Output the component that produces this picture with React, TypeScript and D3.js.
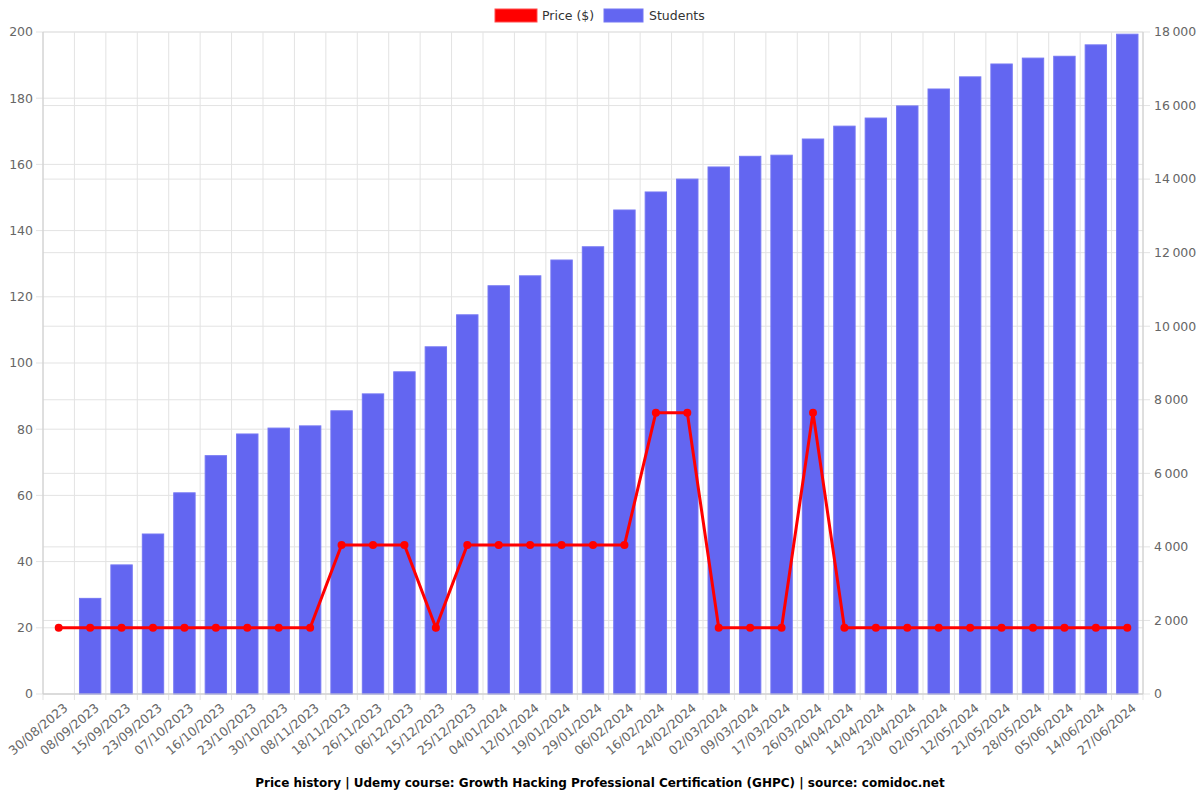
import React from "react";
import * as d3 from "d3";

const dates = ["30/08/2023","08/09/2023","15/09/2023","23/09/2023","07/10/2023","16/10/2023","23/10/2023","30/10/2023","08/11/2023","18/11/2023","26/11/2023","06/12/2023","15/12/2023","25/12/2023","04/01/2024","12/01/2024","19/01/2024","29/01/2024","06/02/2024","16/02/2024","24/02/2024","02/03/2024","09/03/2024","17/03/2024","26/03/2024","04/04/2024","14/04/2024","23/04/2024","02/05/2024","12/05/2024","21/05/2024","28/05/2024","05/06/2024","14/06/2024","27/06/2024"];
const students = [0,2600,3510,4350,5470,6480,7070,7230,7290,7700,8160,8760,9440,10310,11100,11370,11800,12160,13160,13650,14000,14330,14620,14650,15090,15440,15660,15990,16450,16780,17130,17290,17340,17650,17940];
const price = [20,20,20,20,20,20,20,20,20,45,45,45,20,45,45,45,45,45,45,85,85,20,20,20,85,20,20,20,20,20,20,20,20,20,20];
const leftTicks = [0,20,40,60,80,100,120,140,160,180,200];
const rightTicks = [0,2000,4000,6000,8000,10000,12000,14000,16000,18000];
const title = "Price history | Udemy course: Growth Hacking Professional Certification (GHPC) | source: comidoc.net";

export default function App() {
  const W = 1200, H = 800;
  const L = 43, R = 1143, T = 32, B = 694;
  const x = d3.scaleBand().domain(dates).range([L, R]).paddingInner(0).paddingOuter(0);
  const yL = d3.scaleLinear().domain([0, 200]).range([B, T]);
  const yR = d3.scaleLinear().domain([0, 18000]).range([B, T]);
  const bw = x.bandwidth() * 0.68;
  const cx = (d: string) => (x(d) as number) + x.bandwidth() / 2;
  const line = d3.line<number>().x((_, i) => cx(dates[i])).y(v => yL(v));
  const font = "DejaVu Sans, sans-serif";
  const fmt = (v: number) => d3.format(",")(v).replace(/,/g, "\u202F");
  const bounds = dates.map((_, i) => L + i * x.bandwidth()).concat([R]);
  return (
    <svg width={W} height={H} style={{ position: "absolute", left: 0, top: 0, background: "#fff" }} fontFamily={font}>
      {bounds.map((b, i) => (
        <line key={"vg" + i} x1={b} x2={b} y1={T} y2={B + 6} stroke="#e3e3e3" />
      ))}
      {leftTicks.map(t => (
        <line key={"lg" + t} x1={L - 7} x2={R} y1={yL(t)} y2={yL(t)} stroke="#e3e3e3" />
      ))}
      {rightTicks.map(t => (
        <line key={"rg" + t} x1={L} x2={R + 7} y1={yR(t)} y2={yR(t)} stroke="#e3e3e3" />
      ))}
      {dates.map((d, i) => students[i] > 0 ? (
        <rect key={"b" + i} x={cx(d) - bw / 2} y={yR(students[i])} width={bw} height={B - yR(students[i])} fill="#6366f1" stroke="#7476f3" strokeWidth={1} />
      ) : null)}
      <line x1={L} x2={L} y1={T} y2={B} stroke="#ccc" />
      <line x1={R} x2={R} y1={T} y2={B} stroke="#ccc" />
      <line x1={L} x2={R} y1={B} y2={B} stroke="#ccc" />
      {leftTicks.map(t => (
        <text key={"lt" + t} x={L - 10} y={yL(t)} dy="0.35em" textAnchor="end" fontSize={12.5} fill="#666">{t}</text>
      ))}
      {rightTicks.map(t => (
        <text key={"rt" + t} x={R + 11} y={yR(t)} dy="0.35em" textAnchor="start" fontSize={12.5} fill="#666">{fmt(t)}</text>
      ))}
      {dates.map((d, i) => (
        <text key={"xt" + i} transform={`translate(${cx(d) + 7},${B + 12}) rotate(-40)`} textAnchor="end" dy="0.35em" fontSize={12.5} fill="#666">{d}</text>
      ))}
      <path d={line(price) || ""} fill="none" stroke="#ff0000" strokeWidth={3} />
      {price.map((v, i) => (
        <circle key={"p" + i} cx={cx(dates[i])} cy={yL(v)} r={4} fill="#ff0000" />
      ))}
      <rect x={495} y={9} width={42} height={13} fill="#ff0000" stroke="#ff4d4d" />
      <text x={542} y={16} dy="0.35em" fontSize={12.5} fill="#333">Price ($)</text>
      <rect x={604} y={9} width={39} height={13} fill="#6366f1" stroke="#7476f3" />
      <text x={649} y={16} dy="0.35em" fontSize={12.5} fill="#333">Students</text>
      <text x={600} y={783} dy="0.35em" textAnchor="middle" fontSize={12} fontWeight="bold" fill="#000">{title}</text>
    </svg>
  );
}
